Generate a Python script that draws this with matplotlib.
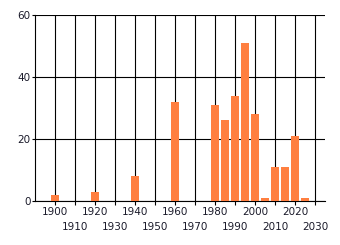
import matplotlib
matplotlib.use("Agg")
import matplotlib.pyplot as plt
from matplotlib.ticker import FixedLocator

years = [1900, 1920, 1940, 1960, 1980, 1985, 1990, 1995, 2000, 2005, 2010, 2015, 2020, 2025]
counts = [2, 3, 8, 32, 31, 26, 34, 51, 28, 1, 11, 11, 21, 1]
major_ticks = [1900, 1920, 1940, 1960, 1980, 2000, 2020]
minor_ticks = [1910, 1930, 1950, 1970, 1990, 2010, 2030]
y_ticks = [0, 20, 40, 60]

fig = plt.figure(figsize=(3.4, 2.45), dpi=100)
ax = fig.add_axes([0.103, 0.18, 0.853, 0.759])

ax.bar(years, counts, width=4, color="#ff7f40", zorder=3)

ax.set_xlim(1890, 2035)
ax.set_ylim(0, 60)
ax.xaxis.set_major_locator(FixedLocator(major_ticks))
ax.xaxis.set_minor_locator(FixedLocator(minor_ticks))
ax.set_xticklabels([str(t) for t in major_ticks])
ax.set_xticklabels([str(t) for t in minor_ticks], minor=True)
ax.set_yticks(y_ticks)

ax.grid(True, which="both", color="black", linewidth=0.8, zorder=0)
ax.set_axisbelow(True)

ax.tick_params(axis="x", which="major", length=3, width=0.8, pad=1.5, labelsize=7.5, labelcolor="#1a1a2a")
ax.tick_params(axis="x", which="minor", length=3, width=0.8, pad=12.5, labelsize=7.5, labelcolor="#1a1a2a")
ax.tick_params(axis="y", length=2, width=0.8, pad=1, labelsize=7.5, labelcolor="#1a1a2a")

for side in ["top", "right"]:
    ax.spines[side].set_visible(False)
ax.spines["left"].set_linewidth(0.8)
ax.spines["bottom"].set_linewidth(0.8)

fig.savefig("out.png", dpi=100)
